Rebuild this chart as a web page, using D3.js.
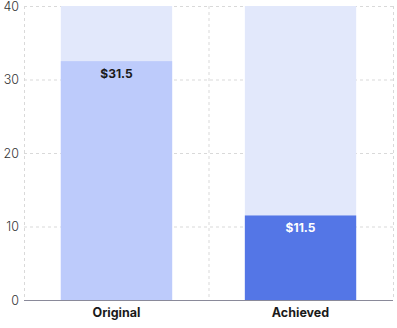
<!DOCTYPE html>
<html>
<head>
<meta charset="utf-8">
<script src="https://cdn.jsdelivr.net/npm/d3@7"></script>
<style>
body { margin: 0; background: #fff; }
svg { display: block; font-family: Inter, "Noto Sans", sans-serif; }
</style>
</head>
<body>
<div></div>
<script>
var categories = ['Original', 'Achieved'];
var values = [32.5, 11.5];
var valueLabels = ['$31.5', '$11.5'];
var maxValues = [40, 40];
var yTicks = [0, 10, 20, 30, 40];

var width = 397;
var height = 328;
var margin = { left: 24, right: 4, top: 6, bottom: 28 };

var svg = d3.select('div')
    .append('svg')
    .attr('width', width)
    .attr('height', height);

var scaleX = d3.scaleBand()
    .domain(categories)
    .range([margin.left, width - margin.right])
    .paddingInner(0.395)
    .paddingOuter(0.2);

var scaleY = d3.scaleLinear()
    .domain([0, 40])
    .range([height - margin.bottom, margin.top]);

// grid horizontal
svg.append('g')
    .selectAll('line')
    .data(yTicks.filter(d => d > 0))
    .enter()
    .append('line')
    .attr('x1', margin.left)
    .attr('x2', width - margin.right)
    .attr('y1', d => scaleY(d) + 0.5)
    .attr('y2', d => scaleY(d) + 0.5)
    .attr('stroke', '#d9d9d9')
    .attr('stroke-dasharray', '3,3');

// grid vertical (band edges)
var edges = [margin.left, margin.left + (width - margin.left - margin.right) / 2, width - margin.right];
svg.append('g')
    .selectAll('line')
    .data(edges)
    .enter()
    .append('line')
    .attr('x1', d => d + 0.5)
    .attr('x2', d => d + 0.5)
    .attr('y1', scaleY(40))
    .attr('y2', scaleY(0))
    .attr('stroke', '#d9d9d9')
    .attr('stroke-dasharray', '3,3');

// background bars
svg.append('g')
    .selectAll('rect')
    .data(maxValues)
    .enter()
    .append('rect')
    .attr('x', (d, i) => scaleX(categories[i]))
    .attr('y', d => scaleY(d))
    .attr('width', scaleX.bandwidth())
    .attr('height', d => scaleY(0) - scaleY(d))
    .attr('fill', '#e2e8fb');

var barColors = ['#bdcbfb', '#5476e6'];
svg.append('g')
    .selectAll('rect')
    .data(values)
    .enter()
    .append('rect')
    .attr('x', (d, i) => scaleX(categories[i]))
    .attr('y', d => scaleY(d))
    .attr('width', scaleX.bandwidth())
    .attr('height', d => scaleY(0) - scaleY(d))
    .attr('fill', (d, i) => barColors[i]);

// value labels
svg.append('g')
    .selectAll('text')
    .data(values)
    .enter()
    .append('text')
    .attr('x', (d, i) => scaleX(categories[i]) + scaleX.bandwidth() / 2)
    .attr('y', d => scaleY(d) + 17)
    .attr('text-anchor', 'middle')
    .attr('font-size', 12)
    .attr('font-weight', 700)
    .attr('fill', (d, i) => i === 0 ? '#1a1a1a' : '#ffffff')
    .text((d, i) => valueLabels[i]);

// y axis labels
svg.append('g')
    .selectAll('text')
    .data(yTicks)
    .enter()
    .append('text')
    .attr('x', 19)
    .attr('y', d => scaleY(d) + 4.5)
    .attr('text-anchor', 'end')
    .attr('font-size', 12.5)
    .attr('font-weight', 300)
    .attr('fill', '#333')
    .text(d => d);

// x axis line
svg.append('line')
    .attr('x1', margin.left)
    .attr('x2', width - margin.right)
    .attr('y1', scaleY(0) + 0.5)
    .attr('y2', scaleY(0) + 0.5)
    .attr('stroke', '#8a8a9a')
    .attr('stroke-width', 1);

// category labels
svg.append('g')
    .selectAll('text')
    .data(categories)
    .enter()
    .append('text')
    .attr('x', d => scaleX(d) + scaleX.bandwidth() / 2)
    .attr('y', scaleY(0) + 17)
    .attr('text-anchor', 'middle')
    .attr('font-size', 12.5)
    .attr('font-weight', 700)
    .attr('fill', '#1a1a1a')
    .text(d => d);
</script>
</body>
</html>
